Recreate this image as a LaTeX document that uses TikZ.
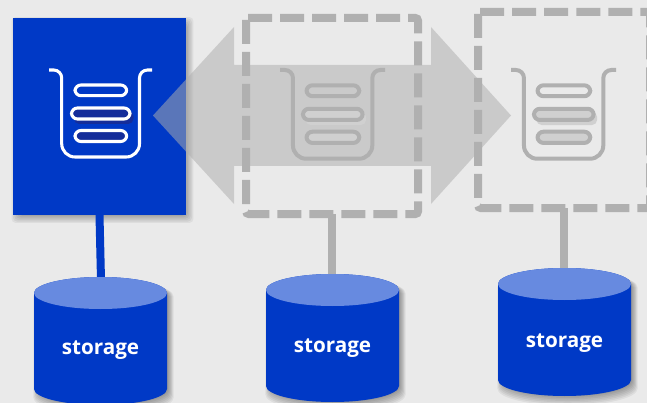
\documentclass[tikz,border=0pt]{standalone}
\usepackage{fontspec}
\setmainfont{Open Sans}
\definecolor{bgc}{HTML}{EAEAEA}
\definecolor{ibmblue}{HTML}{0039C6}
\definecolor{cyltop}{HTML}{678AE0}
\definecolor{dashc}{HTML}{B0B0B0}
\definecolor{arrowc}{HTML}{AEAEAE}
\definecolor{pilldark}{HTML}{152D9A}
\definecolor{pilllight}{HTML}{D0D0D0}
\tikzset{
  boxnode/.style={rectangle,inner sep=0pt,outer sep=0pt,minimum width=129.75pt,minimum height=147.75pt,fill=ibmblue},
  ghostnode/.style={rectangle,inner sep=0pt,outer sep=0pt,minimum width=129pt,minimum height=147pt},
  dashline/.style={draw=dashc,line width=6pt,dash pattern=on 18pt off 6pt,rounded corners=2pt},
  wire/.style={line width=6pt},
  cyltext/.style={text=white,font=\fontsize{15.5pt}{18pt}\selectfont\bfseries,inner sep=0pt},
  softshadow/.style={fill=black,opacity=0.055}
}
\newcommand{\cylpath}{(-66.5,0) -- (-66.5,96) .. controls (-66.5,104.8) and (-36.7,112) .. (0,112) .. controls (36.7,112) and (66.5,104.8) .. (66.5,96) -- (66.5,0) .. controls (66.5,-8.8) and (36.7,-16) .. (0,-16) .. controls (-36.7,-16) and (-66.5,-8.8) .. (-66.5,0) -- cycle}
\newcommand{\drawcyl}[2]{%
  \begin{scope}[shift={(#1,#2)}]
    \foreach \g in {1,...,7}{
      \begin{scope}[shift={(3,3.5)},xscale={1+(\g-3)*0.0135},yscale={1+(\g-3)*0.0135}]
        \fill[softshadow] \cylpath;
      \end{scope}}
    \fill[ibmblue] \cylpath;
    \fill[cyltop] (0,0) ellipse (66.5 and 16);
  \end{scope}}
\newcommand{\bucket}[6]{% dx, stroke, width, fill, shadow, scale
  \begin{scope}[shift={(#1,0)},scale around={#6:(49,70)}]
    \draw[#2,line width=#3,rounded corners=6pt] (49,70) -- (61.7,70) [rounded corners=10pt] -- (61.7,157) -- (139.5,157) [rounded corners=6pt] -- (139.5,70) -- (152,70);
    \fill[#5,rounded corners=4pt] (74,111) rectangle (133.5,124);
    \draw[#2,line width=#3,rounded corners=4.5pt] (75,85) rectangle (126.7,95.7);
    \draw[#2,fill=#4,line width=#3,rounded corners=4.5pt] (71.5,108) rectangle (130,119);
    \draw[#2,fill=#4,line width=#3,rounded corners=4.5pt] (75,130.5) rectangle (126.7,141.5);
  \end{scope}}
\begin{document}
\begin{tikzpicture}[x=0.75pt,y=-0.75pt]
  \useasboundingbox (0,0) rectangle (647,403);
  \clip (0,0) rectangle (647,403);
  \fill[bgc] (0,0) rectangle (647,403);

  \coordinate (c1) at (101,280);
  \coordinate (c2) at (332,277);
  \coordinate (c3) at (564,271);
  \node[ghostnode] (d2) at (332,116) {};
  \node[ghostnode] (d3) at (564,110) {};

  % left box shadow
  \foreach \g in {0,...,6}{
    \fill[softshadow,rounded corners=3pt] ({13+3-\g*1.4+4},{18+3.5-\g*1.4+4}) rectangle ({186+3+\g*1.4-4},{215+3.5+\g*1.4-4});}
  \node[boxnode] (b1) at (99.5,116.5) {};

  \draw[wire,ibmblue] (b1.south) -- (c1);
  \draw[wire,dashc] (d2.south) -- (c2);
  \draw[wire,dashc] (d3.south) -- (c3);

  \drawcyl{100.5}{293}
  \drawcyl{332.5}{290}
  \drawcyl{564.5}{284}
  \node[cyltext] (s1) at (100.5,350.5) {storage};
  \node[cyltext] (s2) at (332.5,348.5) {storage};
  \node[cyltext] (s3) at (564.5,343.5) {storage};

  \bucket{0}{white}{2.3pt}{pilldark}{pilldark}{1}

  \fill[arrowc,opacity=0.52] (153,115.5) -- (234,27) -- (234,65) -- (431,65) -- (431,27) -- (511,115.5) -- (431,204) -- (431,166) -- (234,166) -- (234,204) -- cycle;

  \bucket{231}{dashc}{3pt}{pilllight}{pilllight}{1.02}
  \bucket{462}{dashc}{3pt}{pilllight}{pilllight}{1.02}

  \draw[dashline] ([yshift=-1.5pt]d2.north west) -- (d2.south west) -- (d2.south east) -- (d2.north east) -- (d2.north west);
  \draw[dashline] ([yshift=-1.5pt]d3.north west) -- (d3.south west) -- (d3.south east) -- (d3.north east) -- (d3.north west);
\end{tikzpicture}
\end{document}
